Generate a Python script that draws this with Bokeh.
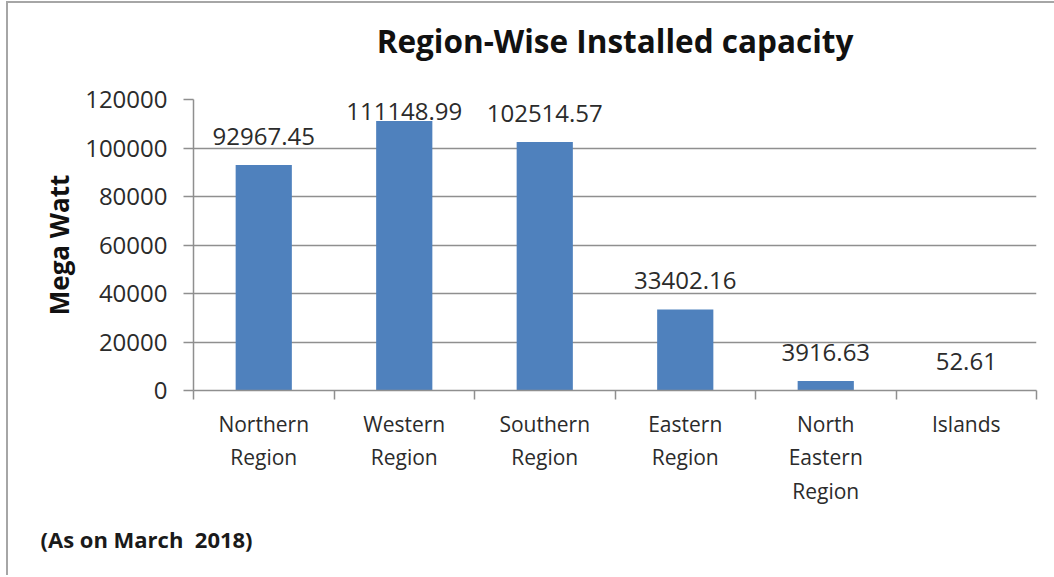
from bokeh.plotting import figure
from bokeh.models import (Range1d, FixedTicker, CustomJSTickFormatter, Title,
                          NumeralTickFormatter)
from bokeh.core.properties import value
from bokeh.embed import file_html
from bokeh.resources import INLINE

# ---- data ----
categories = ["Northern Region", "Western Region", "Southern Region",
              "Eastern Region", "North Eastern Region", "Islands"]
tick_labels = ["Northern\nRegion", "Western\nRegion", "Southern\nRegion",
               "Eastern\nRegion", "North\nEastern\nRegion", "Islands"]
capacity_mw = [92967.45, 111148.99, 102514.57, 33402.16, 3916.63, 52.61]
y_ticks = [0, 20000, 40000, 60000, 80000, 100000, 120000]

FONT = "Open Sans"
BAR = "#4f81bd"
GRID = "#8f8f8f"
TXT = "#2b2b2b"
LABEL_CAP = 103400  # data labels pushed inside the plot area when too high

xs = [i + 0.5 for i in range(len(categories))]
lab_y = [min(v, LABEL_CAP) for v in capacity_mw]
lab_txt = [f"{v:.2f}" for v in capacity_mw]

p = figure(width=1048, height=574, output_backend="svg", toolbar_location=None,
           x_range=Range1d(0, len(categories)), y_range=Range1d(0, 120000),
           min_border_left=185, min_border_right=20, min_border_top=96,
           min_border_bottom=187)
p.styles = {"margin-left": "6px", "margin-top": "1px",
            "border-left": "2px solid #a6a6a6", "border-top": "2px solid #a6a6a6"}
p.outline_line_color = None
p.background_fill_color = "white"
p.border_fill_color = "white"

p.title = Title(text="Region-Wise Installed capacity", align="center",
                text_font=FONT, text_font_size="31.5px", text_font_style="bold",
                text_color="#111111", standoff=25)
# empty spacer between the title and the plot area
p.add_layout(Title(text=" ", text_font_size="1px", standoff=22), "above")

p.vbar(x=xs, top=capacity_mw, width=0.4, color=BAR, line_color=None)
p.text(x=xs, y=lab_y, text=lab_txt, text_align="center", text_baseline="bottom",
       y_offset=-20, text_font=value(FONT), text_font_size="24px", text_color=TXT)

# x axis
xa = p.xaxis[0]
xa.ticker = FixedTicker(ticks=xs, minor_ticks=list(range(len(categories) + 1)))
xa.formatter = CustomJSTickFormatter(args=dict(labels=tick_labels),
                                     code="return labels[Math.floor(tick)];")
xa.major_tick_out = 0
xa.major_tick_in = 0
xa.minor_tick_out = 9
xa.minor_tick_in = 0
xa.minor_tick_line_color = GRID
xa.minor_tick_line_width = 1.5
xa.axis_line_color = GRID
xa.axis_line_width = 1.5
xa.major_label_text_font = FONT
xa.major_label_text_font_size = "21px"
xa.major_label_text_color = TXT
xa.major_label_text_line_height = 1.2
xa.major_label_standoff = 10

# y axis
ya = p.yaxis[0]
ya.ticker = FixedTicker(ticks=y_ticks)
ya.formatter = NumeralTickFormatter(format="0")
ya.major_tick_out = 10
ya.major_tick_in = 0
ya.minor_tick_out = 0
ya.minor_tick_in = 0
ya.major_tick_line_color = GRID
ya.major_tick_line_width = 1.5
ya.axis_line_color = GRID
ya.axis_line_width = 1.5
ya.major_label_text_font = FONT
ya.major_label_text_font_size = "24px"
ya.major_label_text_color = TXT
ya.major_label_standoff = 16
ya.axis_label = "Mega Watt"
ya.axis_label_text_font = FONT
ya.axis_label_text_font_size = "26px"
ya.axis_label_text_font_style = "bold"
ya.axis_label_text_color = "#111111"
ya.axis_label_standoff = 5

p.xgrid.grid_line_color = None
p.ygrid.grid_line_color = GRID
p.ygrid.grid_line_width = 1.5
p.ygrid.ticker = FixedTicker(ticks=y_ticks)

p.add_layout(Title(text="(As on March\u00a0 2018)", align="left", offset=-153,
                   text_font=FONT, text_font_size="22px", text_font_style="bold",
                   text_color="#1a1a1a", standoff=28), "below")

open("out.html", "w").write(file_html(p, INLINE))
